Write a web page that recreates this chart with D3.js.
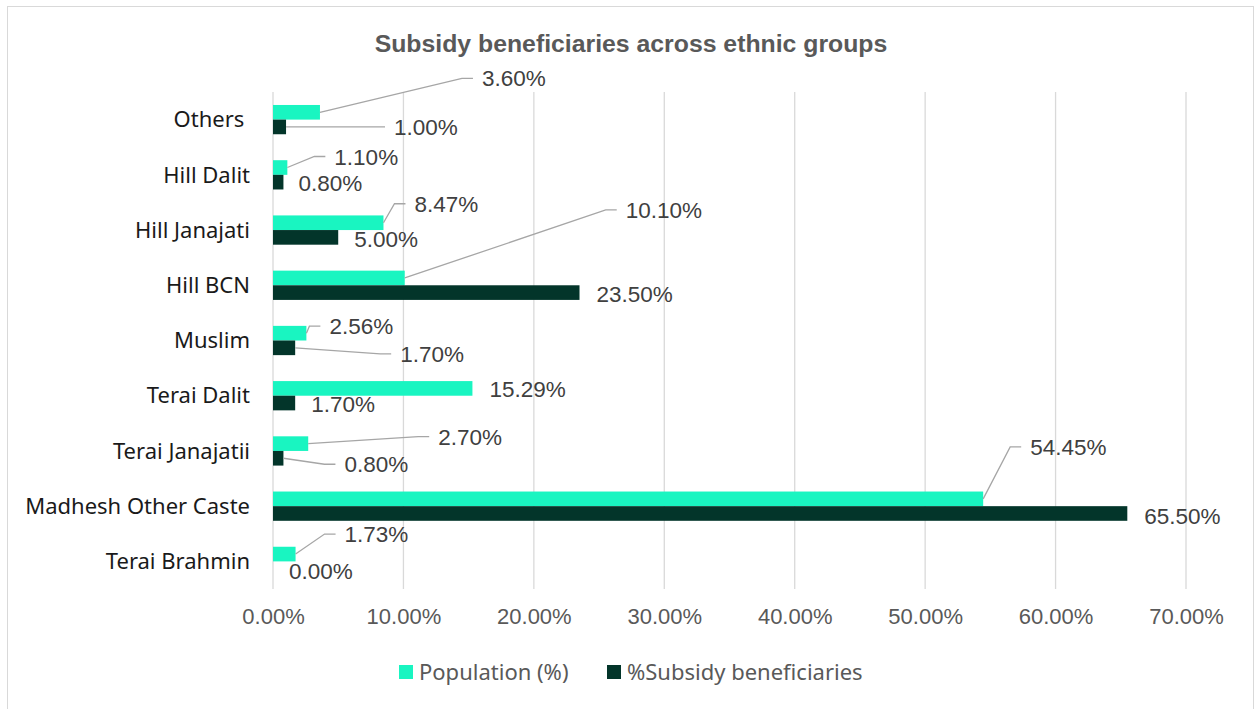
<!DOCTYPE html>
<html>
<head>
<meta charset="utf-8">
<script src="https://cdn.jsdelivr.net/npm/d3@7"></script>
<style>
  body { margin: 0; background: #fff; }
  .cat { font-family: "Noto Sans", sans-serif; font-size: 22px; fill: #1a1a1a; }
  .tick text { font-family: "Liberation Sans", Arial, sans-serif; font-size: 22px; fill: #595959; }
  .lbl { font-family: "Liberation Sans", Arial, sans-serif; font-size: 22.5px; fill: #404040; }
  .title { font-family: "Liberation Sans", Arial, sans-serif; font-size: 24.8px; font-weight: bold; fill: #595959; }
  .legend text { font-family: "Noto Sans", sans-serif; font-size: 22px; fill: #595959; }
</style>
</head>
<body>
<div id="chart"></div>
<script>
// categories, top to bottom as drawn
const categories = ['Others ', 'Hill Dalit', 'Hill Janajati', 'Hill BCN', 'Muslim',
    'Terai Dalit', 'Terai Janajatii', 'Madhesh Other Caste', 'Terai Brahmin'];
const population = [3.60, 1.10, 8.47, 10.10, 2.56, 15.29, 2.70, 54.45, 1.73];
const subsidy = [1.00, 0.80, 5.00, 23.50, 1.70, 1.70, 0.80, 65.50, 0.00];
const seriesNames = ['Population (%)', '%Subsidy beneficiaries'];
const xTicks = [0, 10, 20, 30, 40, 50, 60, 70];

// label placement (offset from bar end, px) and whether a leader line is drawn
const popLabelPos = [[162, -34, 1], [47, -11, 1], [31, -19, 1], [221, -68, 1], [23, -7, 1],
    [17, 0, 0], [130, -7, 1], [47, -52, 1], [49, -20, 1]];
const subLabelPos = [[108, 0, 1], [15, 1, 0], [16, 2, 0], [17, 1, 0], [105, 6, 1],
    [16, 1, 0], [61, 6, 1], [17, 2, 0], [16, 2, 0]];

const colors = ['#19f5c1', '#03352a'];

const width = 1255, height = 709;
const margin = {top: 92, right: 69, bottom: 120, left: 273};
const innerW = width - margin.left - margin.right;
const innerH = height - margin.top - margin.bottom;

const svg = d3.select('#chart').append('svg')
    .attr('width', width)
    .attr('height', height);

// chart frame
svg.append('rect')
    .attr('x', 7.5).attr('y', 6.5)
    .attr('width', 1246).attr('height', 720)
    .attr('fill', 'none')
    .attr('stroke', '#d9d9d9');

svg.append('text')
    .attr('class', 'title')
    .attr('x', 631).attr('y', 52)
    .attr('text-anchor', 'middle')
    .text('Subsidy beneficiaries across ethnic groups');

const g = svg.append('g')
    .attr('transform', `translate(${margin.left},${margin.top})`);

const x = d3.scaleLinear().domain([0, 70]).range([0, innerW]);
const y = d3.scaleBand().domain(categories).range([0, innerH]).paddingInner(0.47).paddingOuter(0.235);
const sub = d3.scaleBand().domain([0, 1]).range([0, y.bandwidth()]);

// gridlines
g.selectAll('.grid')
    .data(xTicks)
    .join('line')
    .attr('class', 'grid')
    .attr('x1', d => x(d)).attr('x2', d => x(d))
    .attr('y1', 0).attr('y2', innerH)
    .attr('stroke', '#d9d9d9')
    .attr('stroke-width', 1.3);

// x axis
const xAxis = d3.axisBottom(x)
    .tickValues(xTicks)
    .tickFormat(d => d.toFixed(2) + '%')
    .tickSize(0)
    .tickPadding(19);
const xAxisG = g.append('g')
    .attr('transform', `translate(0,${innerH})`)
    .call(xAxis);
xAxisG.select('.domain').remove();

// category labels
g.selectAll('.cat')
    .data(categories)
    .join('text')
    .attr('class', 'cat')
    .attr('x', -23)
    .attr('y', d => y(d) + y.bandwidth() / 2)
    .attr('dy', '0.35em')
    .attr('text-anchor', 'end')
    .attr('xml:space', 'preserve')
    .style('white-space', 'pre')
    .text(d => d);

const series = [population, subsidy];
const labelPos = [popLabelPos, subLabelPos];

series.forEach((vals, si) => {
    const rows = categories.map((c, i) => ({cat: c, v: vals[i], pos: labelPos[si][i]}));

    g.selectAll('.bar-' + si)
        .data(rows)
        .join('rect')
        .attr('class', 'bar-' + si)
        .attr('x', 0)
        .attr('y', d => y(d.cat) + sub(si))
        .attr('width', d => x(d.v))
        .attr('height', sub.bandwidth())
        .attr('fill', colors[si]);

    const endX = d => x(d.v);
    const midY = d => y(d.cat) + sub(si) + sub.bandwidth() / 2;

    // leader lines
    g.selectAll('.leader-' + si)
        .data(rows.filter(d => d.pos[2]))
        .join('polyline')
        .attr('class', 'leader-' + si)
        .attr('fill', 'none')
        .attr('stroke', '#a6a6a6')
        .attr('stroke-width', 1.3)
        .attr('points', d => {
            const lx = endX(d) + d.pos[0], ly = midY(d) + d.pos[1];
            return [[endX(d), midY(d)], [lx - 20, ly], [lx - 9, ly]].join(' ');
        });

    g.selectAll('.lbl-' + si)
        .data(rows)
        .join('text')
        .attr('class', 'lbl lbl-' + si)
        .attr('x', d => endX(d) + d.pos[0])
        .attr('y', d => midY(d) + d.pos[1])
        .attr('dy', '0.36em')
        .text(d => d.v.toFixed(2) + '%');
});

// legend
const legend = svg.append('g').attr('class', 'legend');
const legendX = [399, 607];
seriesNames.forEach((name, i) => {
    legend.append('rect')
        .attr('x', legendX[i]).attr('y', 665)
        .attr('width', 14).attr('height', 14)
        .attr('fill', colors[i]);
    legend.append('text')
        .attr('x', legendX[i] + 20).attr('y', 672)
        .attr('dy', '0.35em')
        .text(name);
});
</script>
</body>
</html>
